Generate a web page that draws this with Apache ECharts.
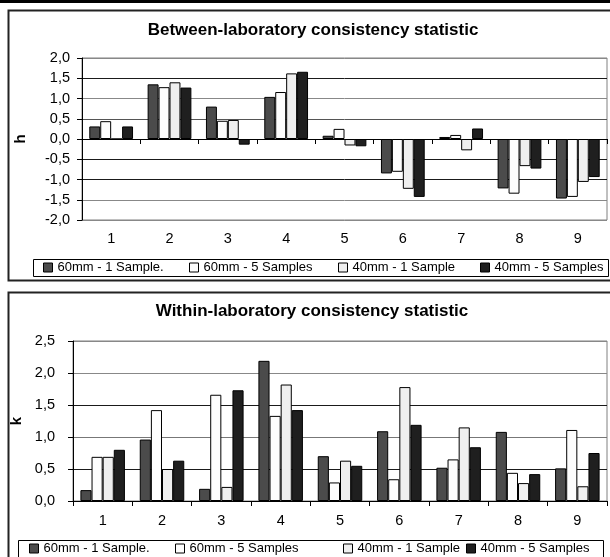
<!DOCTYPE html>
<html>
<head>
<meta charset="utf-8">
<script src="https://cdn.jsdelivr.net/npm/echarts@6/dist/echarts.min.js"></script>
<style>
html,body{margin:0;padding:0;background:#fff;}
#c{width:610px;height:557px;}
</style>
</head>
<body>
<div id="c"></div>
<script>
// ---- data ----
const categories = ['1','2','3','4','5','6','7','8','9'];
const seriesNames = ['60mm - 1 Sample.','60mm - 5 Samples','40mm - 1 Sample','40mm - 5 Samples'];
const titleTop = 'Between-laboratory consistency statistic';
const titleBottom = 'Within-laboratory consistency statistic';
const nameTop = 'h';
const nameBottom = 'k';

// h statistic (between-laboratory)
const h60mm1 = [0.31, 1.35, 0.80, 1.04, 0.08, -0.85, 0.05, -1.22, -1.47];
const h60mm5 = [0.44, 1.28, 0.45, 1.16, 0.25, -0.81, 0.10, -1.35, -1.43];
const h40mm1 = [0.00, 1.40, 0.47, 1.62, -0.16, -1.23, -0.28, -0.67, -1.06];
const h40mm5 = [0.31, 1.27, -0.14, 1.66, -0.18, -1.43, 0.26, -0.73, -0.94];

// k statistic (within-laboratory)
const k60mm1 = [0.17, 0.96, 0.19, 2.19, 0.70, 1.09, 0.52, 1.08, 0.51];
const k60mm5 = [0.69, 1.42, 1.66, 1.33, 0.29, 0.34, 0.65, 0.44, 1.11];
const k40mm1 = [0.69, 0.50, 0.22, 1.82, 0.63, 1.78, 1.15, 0.28, 0.23];
const k40mm5 = [0.80, 0.63, 1.73, 1.42, 0.55, 1.19, 0.84, 0.42, 0.75];

// ---- styling ----
const FONT = '"Liberation Sans", Arial, sans-serif';
const colors = ['#4b4b4b', '#fdfdfd', '#efefef', '#1f1f1f'];
const fmt = v => v.toFixed(1).replace('.', ',');

const chart = echarts.init(document.getElementById('c'), null, {renderer: 'canvas'});

function bar(name, data, idx, color) {
  return {
    type: 'bar', name: name, data: data,
    xAxisIndex: idx === 0 ? 0 : 2, yAxisIndex: idx,
    barGap: '0%', barCategoryGap: '25%',
    itemStyle: {color: color, borderColor: '#000', borderWidth: 1},
    animation: false
  };
}

function legend(name, left, top) {
  return {
    data: [name], left: left, top: top, padding: 0,
    itemWidth: 9, itemHeight: 9, icon: 'rect', selectedMode: false,
    itemStyle: {borderColor: '#000', borderWidth: 1},
    textStyle: {fontFamily: FONT, fontSize: 13, color: '#000'}
  };
}

const tickLabel = {fontFamily: FONT, fontSize: 14.5, color: '#000'};

const option = {
  animation: false,
  backgroundColor: '#fff',
  title: [
    {text: titleTop, left: 313, top: 22, padding: 0, textAlign: 'center',
     textStyle: {fontFamily: FONT, fontSize: 17, fontWeight: 'bold', color: '#000'}},
    {text: titleBottom, left: 312, top: 303, padding: 0, textAlign: 'center',
     textStyle: {fontFamily: FONT, fontSize: 17, fontWeight: 'bold', color: '#000'}}
  ],
  legend: [
    legend(seriesNames[0], 43, 261),
    legend(seriesNames[1], 189, 261),
    legend(seriesNames[2], 338, 261),
    legend(seriesNames[3], 480, 261),
    legend(seriesNames[0], 29, 542),
    legend(seriesNames[1], 175, 542),
    legend(seriesNames[2], 343, 542),
    legend(seriesNames[3], 466, 542)
  ],
  grid: [
    {left: 82, top: 58, width: 525, height: 162, show: true, borderColor: '#808080', borderWidth: 1, backgroundColor: 'transparent'},
    {left: 73, top: 341, width: 534, height: 160, show: true, borderColor: '#808080', borderWidth: 1, backgroundColor: 'transparent'}
  ],
  xAxis: [
    {type: 'category', gridIndex: 0, data: categories, position: 'bottom',
     axisLine: {show: true, onZero: true, lineStyle: {color: '#000', width: 1}},
     axisTick: {show: true, length: 5, lineStyle: {color: '#000'}},
     axisLabel: {show: false}, splitLine: {show: false}},
    {type: 'category', gridIndex: 0, data: categories, position: 'bottom',
     axisLine: {show: false, onZero: false}, axisTick: {show: false},
     axisLabel: Object.assign({margin: 11}, tickLabel), splitLine: {show: false}},
    {type: 'category', gridIndex: 1, data: categories, position: 'bottom',
     axisLine: {show: true, onZero: true, lineStyle: {color: '#000', width: 1}},
     axisTick: {show: true, length: 5, lineStyle: {color: '#000'}},
     axisLabel: Object.assign({margin: 12}, tickLabel), splitLine: {show: false}}
  ],
  yAxis: [
    {type: 'value', gridIndex: 0, min: -2, max: 2, interval: 0.5,
     name: nameTop, nameLocation: 'middle', nameRotate: 90, nameGap: 54,
     nameTextStyle: {fontFamily: FONT, fontSize: 15, fontWeight: 'bold', color: '#000'},
     axisLine: {show: true, lineStyle: {color: '#000', width: 1}},
     axisTick: {show: true, length: 5, lineStyle: {color: '#000'}},
     axisLabel: Object.assign({margin: 12, formatter: fmt}, tickLabel),
     splitLine: {show: true, lineStyle: {width: 1, color: ['#888','#888','#1a1a1a','#1a1a1a','#1a1a1a','#555','#888','#1a1a1a','#888']}}},
    {type: 'value', gridIndex: 1, min: 0, max: 2.5, interval: 0.5,
     name: nameBottom, nameLocation: 'middle', nameRotate: 90, nameGap: 45,
     nameTextStyle: {fontFamily: FONT, fontSize: 15, fontWeight: 'bold', color: '#000'},
     axisLine: {show: true, lineStyle: {color: '#000', width: 1}},
     axisTick: {show: true, length: 5, lineStyle: {color: '#000'}},
     axisLabel: Object.assign({margin: 18, formatter: fmt}, tickLabel),
     splitLine: {show: true, lineStyle: {width: 1, color: ['#1a1a1a','#1a1a1a','#777','#1a1a1a','#888','#888']}}}
  ],
  graphic: [
    {type: 'rect', shape: {x: 0, y: 0, width: 610, height: 3}, style: {fill: '#000'}, silent: true},
    {type: 'rect', shape: {x: 8.5, y: 10.5, width: 620, height: 270}, style: {fill: 'none', stroke: '#222', lineWidth: 2}, silent: true},
    {type: 'rect', shape: {x: 8.5, y: 292.5, width: 620, height: 280}, style: {fill: 'none', stroke: '#222', lineWidth: 2}, silent: true},
    {type: 'rect', shape: {x: 33.5, y: 259.5, width: 575, height: 17}, style: {fill: 'none', stroke: '#000', lineWidth: 1}, silent: true},
    {type: 'rect', shape: {x: 18.5, y: 540.5, width: 585, height: 30}, style: {fill: 'none', stroke: '#000', lineWidth: 1}, silent: true}
  ],
  series: [
    bar(seriesNames[0], h60mm1, 0, colors[0]),
    bar(seriesNames[1], h60mm5, 0, colors[1]),
    bar(seriesNames[2], h40mm1, 0, colors[2]),
    bar(seriesNames[3], h40mm5, 0, colors[3]),
    bar(seriesNames[0], k60mm1, 1, colors[0]),
    bar(seriesNames[1], k60mm5, 1, colors[1]),
    bar(seriesNames[2], k40mm1, 1, colors[2]),
    bar(seriesNames[3], k40mm5, 1, colors[3])
  ]
};
chart.setOption(option);
</script>
</body>
</html>
